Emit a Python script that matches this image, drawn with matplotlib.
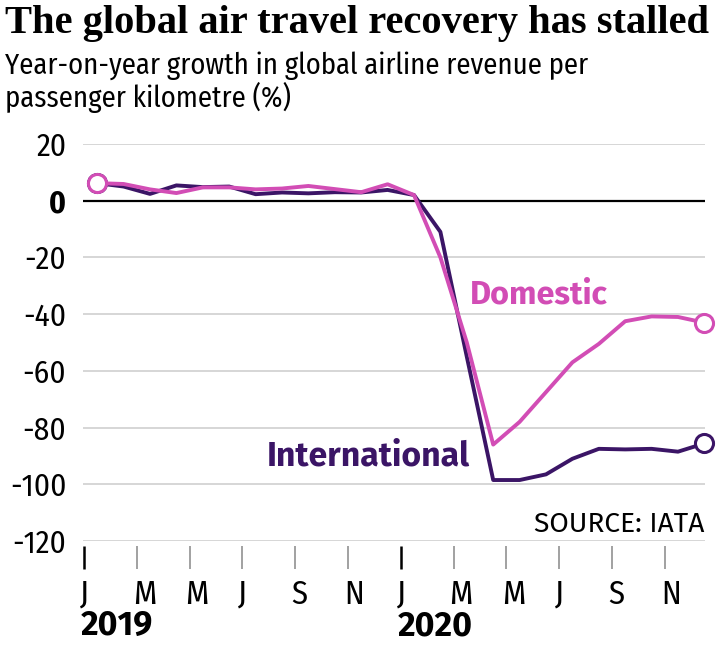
import matplotlib
matplotlib.use("Agg")
import matplotlib.pyplot as plt
from matplotlib import font_manager, transforms

# ---------------- data ----------------
month_index = list(range(24))          # Jan 2019 .. Dec 2020
international = [6.2, 5.0, 2.4, 5.4, 4.8, 5.0, 2.3, 2.9, 2.6, 3.0, 2.9, 3.8,
                 2.0, -11.0, -55.0, -98.5, -98.5, -96.5, -91.0, -87.5, -87.7, -87.5, -88.5, -85.6]
domestic = [6.2, 5.9, 4.0, 2.7, 4.7, 4.7, 4.0, 4.3, 5.2, 4.1, 3.0, 5.8,
            2.0, -20.0, -50.0, -86.0, -78.0, -67.5, -57.0, -50.5, -42.5, -40.8, -41.0, -43.0]
tick_positions = list(range(0, 24, 2))
month_labels = ["J", "M", "M", "J", "S", "N", "J", "M", "M", "J", "S", "N"]
year_positions = [0, 12]
year_labels = ["2019", "2020"]
y_ticks = [20, 0, -20, -40, -60, -80, -100, -120]
y_labels = ["20", "0", "-20", "-40", "-60", "-80", "-100", "-120"]

title = "The global air travel recovery has stalled"
subtitle1 = "Year-on-year growth in global airline revenue per"
subtitle2 = "passenger kilometre (%)"
source = "SOURCE: IATA"

# ---------------- style ----------------
PINK = "#d24db5"
PURPLE = "#3b1566"
GRID = "#cccccc"

names = {f.name for f in font_manager.fontManager.ttflist}


def pick(options, default):
    for o in options:
        if o in names:
            return o
    return default


NARROW = pick(["Fira Sans Condensed", "Roboto Condensed", "Open Sans Condensed",
               "IBM Plex Sans Condensed", "PT Sans Narrow", "Archivo Narrow",
               "Encode Sans Condensed", "Asap Condensed", "Liberation Sans Narrow"],
              "Liberation Sans")
SANS = pick(["Fira Sans", "Open Sans", "Noto Sans"], "Liberation Sans")
SERIF = pick(["Liberation Serif"], "DejaVu Serif")

W, H = 720, 648
fig = plt.figure(figsize=(W / 100, H / 100), dpi=100)
fig.patch.set_facecolor("white")

# axes placed in pixel terms
ax_l, ax_r, ax_t, ax_b = 83, 705, 144, 541
ax = fig.add_axes([ax_l / W, 1 - ax_b / H, (ax_r - ax_l) / W, (ax_b - ax_t) / H])
px_per_month = 26.4
ax.set_xlim((ax_l - 84) / px_per_month, (ax_r - 84) / px_per_month)
ax.set_ylim(-120, 20)

for s in ax.spines.values():
    s.set_visible(False)
ax.spines["bottom"].set_position(("outward", 3.6))

# grid
ax.set_yticks(y_ticks)
ax.set_yticklabels(y_labels)
ax.yaxis.grid(True, color=GRID, lw=1.1, zorder=0)
ax.set_axisbelow(True)
ax.axhline(0, color="black", lw=1.6, zorder=1)

ax.tick_params(axis="y", length=0, pad=12, labelsize=22.5, labelcolor="black")
for lab in ax.get_yticklabels():
    lab.set_fontfamily(NARROW)
    if lab.get_text() == "0":
        lab.set_fontweight("bold")

# x ticks
ax.set_xticks(tick_positions)
ax.set_xticklabels(month_labels)
ax.tick_params(axis="x", length=16.5, width=1.1, color="#888888", pad=7,
               labelsize=23.5, direction="out")
offset = transforms.ScaledTranslation(-4 / 100, 0, fig.dpi_scale_trans)
for lab in ax.get_xticklabels():
    lab.set_fontfamily(NARROW)
    lab.set_ha("left")
    lab.set_transform(lab.get_transform() + offset)
for pos, tk in zip(tick_positions, ax.xaxis.get_major_ticks()):
    if pos in year_positions:
        tk.tick1line.set_markeredgecolor("black")
        tk.tick1line.set_markeredgewidth(1.8)

# years
ytrans = transforms.blended_transform_factory(ax.transData, fig.transFigure) + \
    transforms.ScaledTranslation(-3 / 100, 0, fig.dpi_scale_trans)
for pos, lab in zip(year_positions, year_labels):
    ax.text(pos, 1 - 635 / H, lab, transform=ytrans, ha="left", va="baseline",
            fontsize=24.5, fontweight="bold", family=SANS)

# lines
xs = [m + 0.5 for m in month_index]
ax.plot(xs, international, color=PURPLE, lw=2.8, solid_joinstyle="round",
        marker="o", markevery=[0, len(xs) - 1], ms=13, mfc="white", mec=PURPLE,
        mew=2.2, clip_on=False, zorder=3)
ax.plot(xs, domestic, color=PINK, lw=2.8, solid_joinstyle="round",
        marker="o", markevery=[0, len(xs) - 1], ms=13, mfc="white", mec=PINK,
        mew=2.2, clip_on=False, zorder=4)

# ---------------- texts ----------------
def fpos(x, y):
    return x / W, 1 - y / H


renderer = fig.canvas.get_renderer()


def fit(t, width):
    bb = t.get_window_extent(renderer=renderer)
    t.set_fontsize(t.get_fontsize() * width / bb.width)


t = fig.text(*fpos(5, 33), title, ha="left", va="baseline", fontsize=24,
             fontweight="bold", family=SERIF)
fit(t, 707)

s1 = fig.text(*fpos(5, 74), subtitle1, ha="left", va="baseline", fontsize=20,
              family=NARROW)
fit(s1, 583)
s2 = fig.text(*fpos(5, 107), subtitle2, ha="left", va="baseline",
              fontsize=s1.get_fontsize(), family=NARROW)

d = fig.text(*fpos(470, 303), "Domestic", ha="left", va="baseline", fontsize=20,
             fontweight="bold", color=PINK, family=SANS)
fit(d, 138)
i = fig.text(*fpos(267, 465), "International", ha="left", va="baseline", fontsize=20,
             fontweight="bold", color=PURPLE, family=SANS)
fit(i, 203)
src = fig.text(*fpos(704, 532), source, ha="right", va="baseline", fontsize=18,
               family=SANS)
fit(src, 171)

fig.savefig("out.png", dpi=100, facecolor="white")
